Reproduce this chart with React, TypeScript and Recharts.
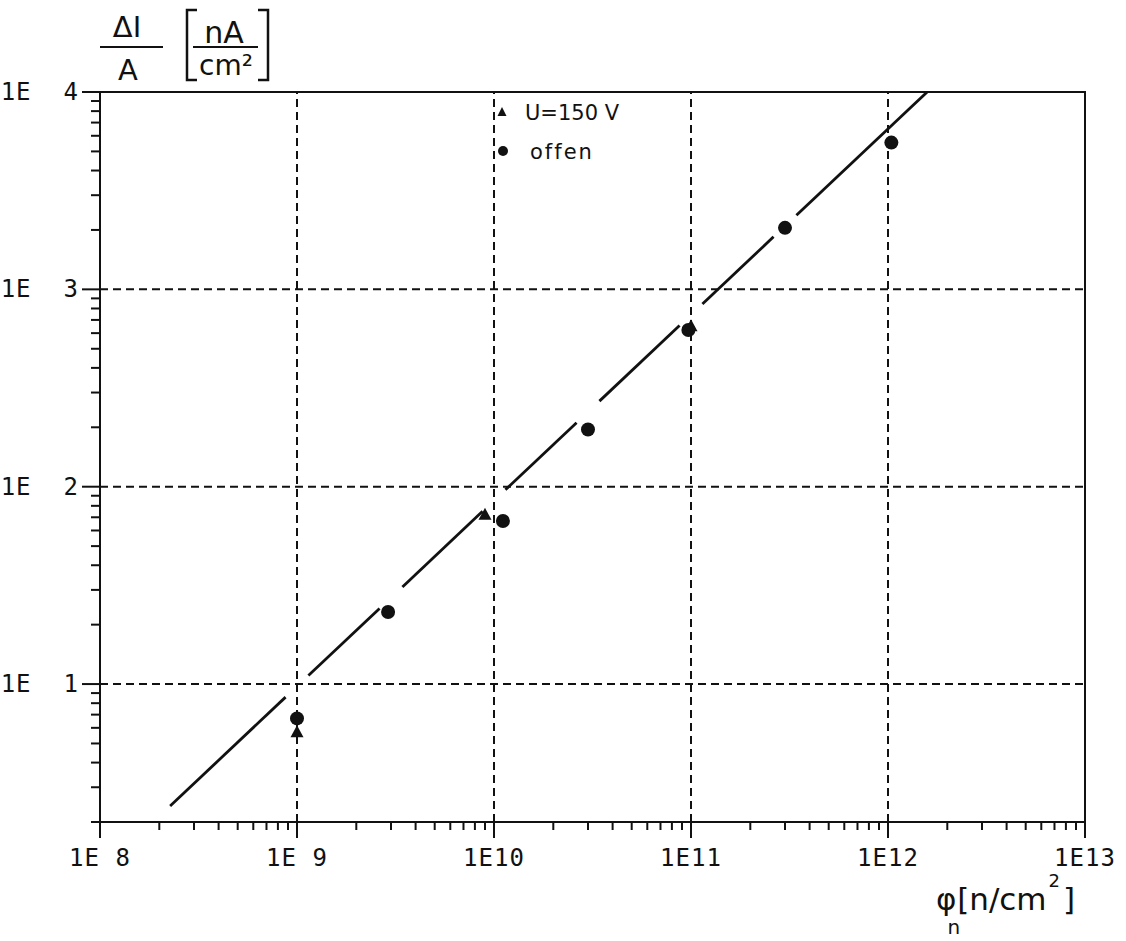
import React from 'react';
import {
  ComposedChart,
  XAxis,
  YAxis,
  Scatter,
  ReferenceLine,
  ReferenceArea,
  Legend,
} from 'recharts';

// Fluence axis (n/cm^2), decades and their labels
const fluenceDecades = [1e8, 1e9, 1e10, 1e11, 1e12, 1e13];
const fluenceLabels = ['1E 8', '1E 9', '1E10', '1E11', '1E12', '1E13'];

// Leakage current density axis (nA/cm^2): mantissa and exponent are drawn apart
const currentDecades = [10, 100, 1000, 10000];
const currentMantissa = ['1E', '1E', '1E', '1E'];
const currentExponent = ['1', '2', '3', '4'];
const currentMin = 2;

// Measured points
const biasedPoints = [
  { x: 1e9, y: 5.7 },
  { x: 9.0e9, y: 72 },
  { x: 1.0e11, y: 650 },
];
const openPoints = [
  { x: 1e9, y: 6.7 },
  { x: 2.9e9, y: 23.2 },
  { x: 1.11e10, y: 67 },
  { x: 3.0e10, y: 195 },
  { x: 9.7e10, y: 622 },
  { x: 3.0e11, y: 2050 },
  { x: 1.04e12, y: 5540 },
];

// Fitted line, interrupted where it crosses the measured points
const fitStart = { x: 2.27e8, y: 2.41 };
const fitEnd = { x: 1.58e12, y: 1e4 };
const fitBreaks = [1e9, 3e9, 1e10, 3e10, 1e11, 3e11];
const breakHalfWidth = 0.058; // decades

const ink = '#111';
const tickFont: React.CSSProperties = {
  fontFamily: '"DejaVu Sans Mono", monospace',
  fontSize: 24,
  letterSpacing: 1,
};

const minors = (decades: number[]) =>
  decades.slice(0, -1).flatMap((d) => [2, 3, 4, 5, 6, 7, 8, 9].map((m) => m * d));

const xTicks = [...fluenceDecades, ...minors(fluenceDecades)].sort((a, b) => a - b);
const yTicks = [
  ...[2, 3, 4, 5, 6, 7, 8, 9].filter((m) => m >= currentMin),
  ...currentDecades,
  ...minors(currentDecades),
].sort((a, b) => a - b);

const lg = Math.log10;
const fitAt = (x: number) => {
  const t = (lg(x) - lg(fitStart.x)) / (lg(fitEnd.x) - lg(fitStart.x));
  return 10 ** (lg(fitStart.y) + t * (lg(fitEnd.y) - lg(fitStart.y)));
};
const fitEdges = [
  lg(fitStart.x),
  ...fitBreaks.flatMap((b) => [lg(b) - breakHalfWidth, lg(b) + breakHalfWidth]),
  lg(fitEnd.x),
];
const fitSegments: { x: number; y: number }[][] = [];
for (let i = 0; i < fitEdges.length; i += 2) {
  const a = 10 ** fitEdges[i];
  const b = 10 ** fitEdges[i + 1];
  fitSegments.push([
    { x: a, y: fitAt(a) },
    { x: b, y: fitAt(b) },
  ]);
}

const XTick = ({ x, y, payload }: any) => {
  const i = fluenceDecades.indexOf(payload.value);
  return (
    <g>
      <line x1={x} x2={x} y1={y} y2={y + (i >= 0 ? 16 : 8)} stroke={ink} strokeWidth={2} />
      {i >= 0 && (
        <text x={x} y={y + 44} textAnchor="middle" fill={ink} style={tickFont}>
          {fluenceLabels[i]}
        </text>
      )}
    </g>
  );
};

const YTick = ({ x, y, payload }: any) => {
  const i = currentDecades.indexOf(payload.value);
  return (
    <g>
      <line x1={x - (i >= 0 ? 18 : 9)} x2={x} y1={y} y2={y} stroke={ink} strokeWidth={2} />
      {i >= 0 && (
        <text x={x - 21} y={y + 8} textAnchor="end" fill={ink} style={tickFont}>
          {currentMantissa[i]}
          <tspan dx={32}>{currentExponent[i]}</tspan>
        </text>
      )}
    </g>
  );
};

const TriangleMark = ({ cx, cy }: any) => (
  <polygon points={`${cx},${cy - 7} ${cx - 6.5},${cy + 5} ${cx + 6.5},${cy + 5}`} fill={ink} />
);
const DotMark = ({ cx, cy }: any) => <circle cx={cx} cy={cy} r={7} fill={ink} />;

const legendFont = { fontFamily: '"DejaVu Sans", sans-serif', fontSize: 21 };

const renderLegend = ({ payload }: any) => (
  <svg width={150} height={70}>
    {(payload || []).map((entry: any, i: number) => {
      const cy = 17 + i * 39;
      const triangle = entry.value === 'U=150 V';
      return (
        <g key={entry.value}>
          {triangle ? (
            <polygon points={`14,${cy - 5} 9.5,${cy + 4} 18.5,${cy + 4}`} fill={ink} />
          ) : (
            <circle cx={15} cy={cy} r={5} fill={ink} />
          )}
          <text
            x={triangle ? 37 : 42}
            y={cy + 8}
            fill={ink}
            style={{ ...legendFont, letterSpacing: triangle ? 0 : 2 }}
          >
            {entry.value}
          </text>
        </g>
      );
    })}
  </svg>
);

const labelFont = { fontFamily: '"DejaVu Sans", sans-serif', fill: ink };

export default function App() {
  return (
    <div style={{ position: 'absolute', left: 0, top: 0, width: 1126, height: 941, background: '#fff' }}>
      <ComposedChart
        width={1126}
        height={941}
        margin={{ top: 92, right: 41, bottom: 59, left: 10 }}
      >
        <XAxis
          dataKey="x"
          type="number"
          scale="log"
          domain={[fluenceDecades[0], fluenceDecades[fluenceDecades.length - 1]]}
          allowDataOverflow
          ticks={xTicks}
          interval={0}
          height={60}
          tickSize={0}
          tickMargin={0}
          tickLine={false}
          axisLine={{ stroke: ink, strokeWidth: 2 }}
          tick={<XTick />}
        />
        <YAxis
          dataKey="y"
          type="number"
          scale="log"
          domain={[currentMin, currentDecades[currentDecades.length - 1]]}
          allowDataOverflow
          ticks={yTicks}
          interval={0}
          width={90}
          tickSize={0}
          tickMargin={0}
          tickLine={false}
          axisLine={{ stroke: ink, strokeWidth: 2 }}
          tick={<YTick />}
        />
        <ReferenceArea
          x1={fluenceDecades[0]}
          x2={fluenceDecades[fluenceDecades.length - 1]}
          y1={currentMin}
          y2={currentDecades[currentDecades.length - 1]}
          fill="none"
          fillOpacity={0}
          stroke={ink}
          strokeWidth={2}
          ifOverflow="visible"
        />
        {fluenceDecades.slice(1, -1).map((d) => (
          <ReferenceLine key={`gx${d}`} x={d} stroke={ink} strokeWidth={2} strokeDasharray="8 5" />
        ))}
        {currentDecades.slice(0, -1).map((d) => (
          <ReferenceLine key={`gy${d}`} y={d} stroke={ink} strokeWidth={2} strokeDasharray="8 5" />
        ))}
        {fitSegments.map((seg, i) => (
          <ReferenceLine key={`fit${i}`} segment={seg} stroke={ink} strokeWidth={2.8} ifOverflow="visible" />
        ))}
        <Scatter
          name="U=150 V"
          data={biasedPoints}
          dataKey="y"
          fill={ink}
          shape={<TriangleMark />}
          isAnimationActive={false}
        />
        <Scatter
          name="offen"
          data={openPoints}
          dataKey="y"
          fill={ink}
          shape={<DotMark />}
          isAnimationActive={false}
        />
        <Legend
          layout="horizontal"
          verticalAlign="middle"
          align="center"
          content={renderLegend}
          wrapperStyle={{ left: 488, top: 95, width: 150, height: 70 }}
        />
      </ComposedChart>
      <svg
        width={1126}
        height={941}
        style={{ position: 'absolute', left: 0, top: 0, pointerEvents: 'none' }}
      >
        {/* y-axis quantity: ΔI / A [nA / cm²] */}
        <text x={127} y={37} textAnchor="middle" fontSize={29} style={labelFont}>ΔI</text>
        <line x1={100} x2={163} y1={47} y2={47} stroke={ink} strokeWidth={2} />
        <text x={128} y={80} textAnchor="middle" fontSize={29} style={labelFont}>A</text>
        <path d="M197,10 H187 V80 H197" fill="none" stroke={ink} strokeWidth={2.5} />
        <text x={224} y={43} textAnchor="middle" fontSize={30} style={labelFont}>nA</text>
        <line x1={193} x2={258} y1={47} y2={47} stroke={ink} strokeWidth={2} />
        <text x={226} y={75} textAnchor="middle" fontSize={28} style={labelFont}>cm²</text>
        <path d="M258,10 H268 V80 H258" fill="none" stroke={ink} strokeWidth={2.5} />

        {/* x-axis quantity: φn [n/cm²] */}
        <text x={936} y={910} fontSize={31} style={labelFont}>
          φ
          <tspan dx={-9} dy={24} fontSize={20}>n</tspan>
          <tspan dx={-3} dy={-24}>[n/cm</tspan>
          <tspan dx={2} dy={-23} fontSize={18}>2</tspan>
          <tspan dx={3} dy={23}>]</tspan>
        </text>
      </svg>
    </div>
  );
}
